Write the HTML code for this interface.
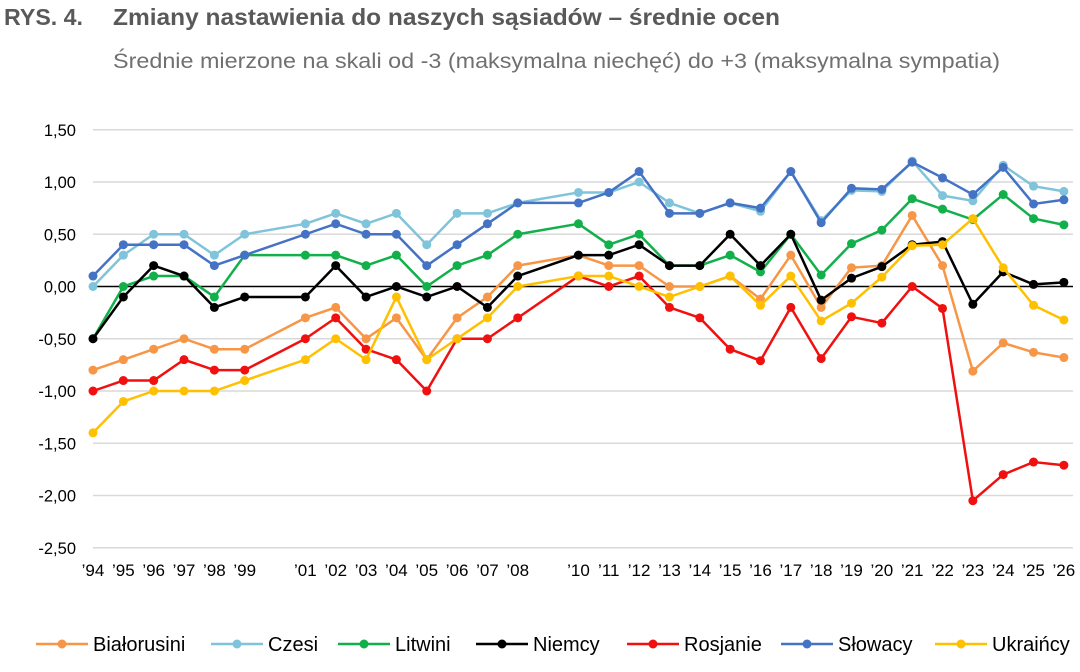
<!DOCTYPE html>
<html><head><meta charset="utf-8"><style>
body{margin:0;background:#fff;width:1080px;height:667px;overflow:hidden;font-family:"Liberation Sans",sans-serif}
</style></head><body>
<svg id="s" width="1080" height="667" xmlns="http://www.w3.org/2000/svg" font-family="Liberation Sans, sans-serif">
<text x="4" y="25" font-size="23" font-weight="bold" fill="#595959" textLength="79" lengthAdjust="spacingAndGlyphs">RYS. 4.</text>
<text x="113" y="25" font-size="23" font-weight="bold" fill="#595959" textLength="667" lengthAdjust="spacingAndGlyphs">Zmiany nastawienia do naszych sąsiadów – średnie ocen</text>
<text x="113" y="68" font-size="21" fill="#707070" textLength="887" lengthAdjust="spacingAndGlyphs">Średnie mierzone na skali od -3 (maksymalna niechęć) do +3 (maksymalna sympatia)</text>
<g id="g"></g>
</svg>
<script>
const g=document.getElementById('g');let h='';
const Y=v=>286.5-v*104.5;
const idx=[0,1,2,3,4,5,7,8,9,10,11,12,13,14,16,17,18,19,20,21,22,23,24,25,26,27,28,29,30,31,32];
const labs=["'94","'95","'96","'97","'98","'99","'01","'02","'03","'04","'05","'06","'07","'08","'10","'11","'12","'13","'14","'15","'16","'17","'18","'19","'20","'21","'22","'23","'24","'25","'26"];
const X=i=>93+idx[i]*30.34;
for(let k=0;k<9;k++){const v=1.5-k*0.5;const y=Y(v);
 h+=`<line x1="93" x2="1073" y1="${y}" y2="${y}" stroke="${v===0?'#000':'#d9d9d9'}" stroke-width="1.5"/>`;
 h+=`<text x="76" y="${y+6}" font-size="16.5" text-anchor="end" fill="#000">${v.toFixed(2).replace('.',',')}</text>`;}
labs.forEach((l,i)=>h+=`<text x="${X(i)}" y="576" font-size="17" text-anchor="middle" fill="#000">${l.replace("'","’")}</text>`);
const S=[
["#F79646",[-0.8,-0.7,-0.6,-0.5,-0.6,-0.6,-0.3,-0.2,-0.5,-0.3,-0.7,-0.3,-0.1,0.2,0.3,0.2,0.2,0,0,0.1,-0.12,0.3,-0.2,0.18,0.2,0.68,0.2,-0.81,-0.54,-0.63,-0.68]],
["#7FC4DA",[0,0.3,0.5,0.5,0.3,0.5,0.6,0.7,0.6,0.7,0.4,0.7,0.7,0.8,0.9,0.9,1.0,0.8,0.7,0.8,0.72,1.1,0.63,0.92,0.91,1.2,0.87,0.82,1.16,0.96,0.91]],
["#12B04A",[-0.5,0,0.1,0.1,-0.1,0.3,0.3,0.3,0.2,0.3,0,0.2,0.3,0.5,0.6,0.4,0.5,0.2,0.2,0.3,0.14,0.5,0.11,0.41,0.54,0.84,0.74,0.64,0.88,0.65,0.59]],
["#000000",[-0.5,-0.1,0.2,0.1,-0.2,-0.1,-0.1,0.2,-0.1,0,-0.1,0,-0.2,0.1,0.3,0.3,0.4,0.2,0.2,0.5,0.2,0.5,-0.13,0.08,0.19,0.4,0.43,-0.17,0.14,0.02,0.04]],
["#F01010",[-1,-0.9,-0.9,-0.7,-0.8,-0.8,-0.5,-0.3,-0.6,-0.7,-1,-0.5,-0.5,-0.3,0.1,0,0.1,-0.2,-0.3,-0.6,-0.71,-0.2,-0.69,-0.29,-0.35,0,-0.21,-2.05,-1.8,-1.68,-1.71]],
["#4472C4",[0.1,0.4,0.4,0.4,0.2,0.3,0.5,0.6,0.5,0.5,0.2,0.4,0.6,0.8,0.8,0.9,1.1,0.7,0.7,0.8,0.75,1.1,0.61,0.94,0.93,1.19,1.04,0.88,1.14,0.79,0.83]],
["#FFC000",[-1.4,-1.1,-1,-1,-1,-0.9,-0.7,-0.5,-0.7,-0.1,-0.7,-0.5,-0.3,0,0.1,0.1,0,-0.1,0,0.1,-0.18,0.1,-0.33,-0.16,0.09,0.39,0.4,0.65,0.18,-0.18,-0.32]]];
S.forEach(([c,d])=>{h+=`<polyline fill="none" stroke="${c}" stroke-width="2.5" stroke-linejoin="round" points="${d.map((v,i)=>X(i)+','+Y(v)).join(' ')}"/>`;
 d.forEach((v,i)=>h+=`<circle cx="${X(i)}" cy="${Y(v)}" r="4.5" fill="${c}"/>`);});
const L=[["Białorusini",36],["Czesi",211],["Litwini",338],["Niemcy",476],["Rosjanie",627],["Słowacy",781],["Ukraińcy",935]];
L.forEach(([t,x],i)=>{const c=S[i][0];h+=`<line x1="${x}" x2="${x+52}" y1="644" y2="644" stroke="${c}" stroke-width="2.5"/><circle cx="${x+26}" cy="644" r="4.5" fill="${c}"/><text x="${x+57}" y="651" font-size="20" fill="#000">${t}</text>`;});
g.innerHTML=h;
</script>
</body></html>
